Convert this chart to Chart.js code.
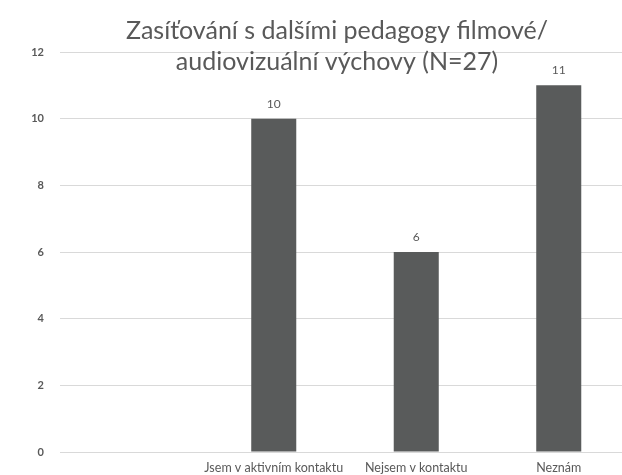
<!DOCTYPE html>
<html>
<head>
<meta charset="utf-8">
<script src="https://cdn.jsdelivr.net/npm/chart.js@4/dist/chart.umd.min.js"></script>
<style>
  html, body { margin: 0; padding: 0; background: #ffffff; overflow: hidden; }
  #wrap { width: 630px; height: 475px; }
</style>
</head>
<body>
<div id="wrap"><canvas id="c" width="630" height="475"></canvas></div>
<script>
// Survey answers: networking with other film / audiovisual educators
const categories = ["", "Jsem v aktivním kontaktu", "Nejsem v kontaktu", "Neznám"];
const counts = [null, 10, 6, 11];
const yTicks = [0, 2, 4, 6, 8, 10, 12];
const titleLines = ["Zasíťování s dalšími pedagogy filmové/", "audiovizuální výchovy (N=27)"];

const GREY_TEXT = "#595959";
const BAR_COLOR = "#595b5b";
const GRID = "#d9d9d9";
const FONT = "Lato, 'Open Sans', sans-serif";

// Value labels above each bar
const valueLabels = {
  id: "valueLabels",
  afterDatasetsDraw(chart) {
    const { ctx } = chart;
    const meta = chart.getDatasetMeta(0);
    ctx.save();
    ctx.font = "12px " + FONT;
    ctx.fillStyle = GREY_TEXT;
    ctx.textAlign = "center";
    ctx.textBaseline = "middle";
    meta.data.forEach((bar, i) => {
      const v = counts[i];
      if (v === null || v === undefined) return;
      ctx.fillText(String(v), bar.x, bar.y - 15);
    });
    ctx.restore();
  }
};

// Two-line heading drawn over the top of the plot
const heading = {
  id: "heading",
  afterDraw(chart) {
    const { ctx } = chart;
    ctx.save();
    ctx.font = "25px " + FONT;
    ctx.fillStyle = GREY_TEXT;
    ctx.textAlign = "center";
    ctx.textBaseline = "alphabetic";
    const cx = 337;
    titleLines.forEach((line, i) => ctx.fillText(line, cx, 39 + i * 31));
    ctx.restore();
  }
};

new Chart(document.getElementById("c"), {
  type: "bar",
  data: {
    labels: categories,
    datasets: [{
      data: counts,
      backgroundColor: BAR_COLOR,
      barPercentage: 0.316,
      categoryPercentage: 1.0
    }]
  },
  options: {
    responsive: false,
    animation: false,
    layout: { padding: { top: 52, left: 32, right: 0, bottom: 0 } },
    plugins: {
      legend: { display: false },
      tooltip: { enabled: false },
      title: { display: false }
    },
    scales: {
      x: {
        grid: { display: false, drawTicks: false },
        border: { display: true, color: GRID },
        afterFit(axis) { axis.height = 23; axis.paddingLeft = 0; axis.paddingRight = 0; },
        ticks: {
          color: GREY_TEXT,
          font: { family: FONT, size: 12.5 },
          padding: 8,
          maxRotation: 0,
          autoSkip: false
        }
      },
      y: {
        min: 0,
        max: 12,
        afterBuildTicks(axis) { axis.ticks = yTicks.map(v => ({ value: v })); },
        afterFit(axis) { axis.width = 28; },
        grid: { color: GRID, drawTicks: false },
        border: { display: false },
        ticks: {
          color: GREY_TEXT,
          font: { family: FONT, size: 11, weight: "bold" },
          padding: 16
        }
      }
    }
  },
  plugins: [valueLabels, heading]
});
</script>
</body>
</html>
